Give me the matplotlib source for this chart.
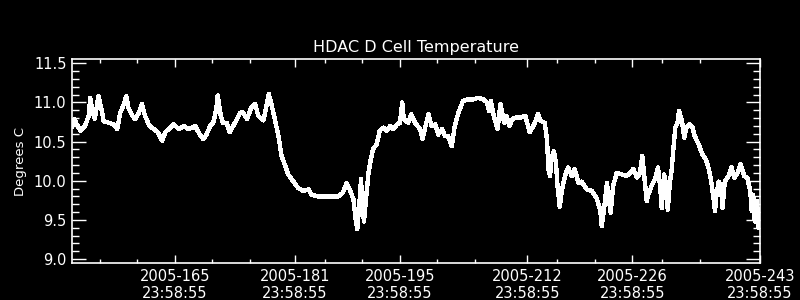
import matplotlib
matplotlib.use("Agg")
import matplotlib.pyplot as plt
from matplotlib.ticker import FixedLocator

# ==========================================================
# data (day of year 2005, degrees C)
# ==========================================================
days = [151.27, 151.6, 151.9, 152.4, 153.0, 153.5, 153.7, 154.0, 154.3, 154.8,
        155.2, 155.5, 156.2, 156.8, 157.3, 157.7, 158.2, 158.5, 158.8, 159.3,
        159.7, 160.2, 160.6, 161.0, 161.6, 162.2, 162.7, 163.3, 163.7, 164.4,
        164.8, 165.5, 166.2, 166.8, 167.3, 167.7, 168.3, 168.8, 169.2, 169.7,
        170.1, 170.5, 170.7, 171.1, 171.4, 171.9, 172.3, 173.0, 173.7, 174.1,
        174.6, 175.2, 175.7, 176.1, 176.8, 177.2, 177.5, 177.9, 178.3, 178.8,
        179.2, 179.7, 180.1, 180.8, 181.4, 182.1, 182.8, 183.2, 184.1, 185.0,
        185.9, 186.8, 187.4, 187.9, 188.3, 188.8, 189.1, 189.3, 189.6, 189.8,
        190.0, 190.2, 190.5, 190.8, 191.1, 191.4, 191.9, 192.3, 192.8, 193.2,
        193.7, 194.1, 194.6, 195.0, 195.3, 195.5, 196.1, 196.5, 197.0, 197.7,
        198.0, 198.3, 198.8, 199.2, 199.7, 200.1, 200.6, 201.0, 201.4, 201.9,
        202.3, 202.8, 203.4, 204.1, 204.8, 205.4, 206.1, 206.6, 206.9, 207.1,
        207.5, 208.0, 208.4, 208.9, 209.2, 209.6, 210.0, 210.6, 211.2, 211.7,
        212.3, 212.9, 213.4, 213.7, 214.3, 214.6, 214.8, 215.0, 215.2, 215.5,
        215.8, 216.0, 216.3, 216.6, 217.0, 217.4, 217.9, 218.3, 218.8, 219.2,
        219.9, 220.6, 221.2, 221.7, 221.9, 222.2, 222.6, 222.8, 223.1, 223.4,
        223.9, 224.6, 225.2, 225.7, 226.1, 226.6, 227.0, 227.3, 227.7, 227.9,
        228.1, 228.6, 229.0, 229.4, 229.7, 229.9, 230.2, 230.5, 230.7, 231.0,
        231.2, 231.4, 231.7, 232.0, 232.2, 232.6, 232.9, 233.2, 233.6, 234.0,
        234.3, 234.8, 235.3, 235.8, 236.2, 236.5, 236.8, 237.0, 237.2, 237.5,
        237.8, 238.0, 238.3, 238.8, 239.2, 239.6, 240.0, 240.4, 240.9, 241.3,
        241.7, 241.9, 242.1, 242.3, 242.6, 242.8, 243.0]
temps = [10.70, 10.79, 10.72, 10.64, 10.70, 10.83, 11.06, 10.89, 10.79, 11.08,
         10.91, 10.76, 10.74, 10.72, 10.66, 10.87, 10.98, 11.08, 10.93, 10.83,
         10.79, 10.87, 10.98, 10.83, 10.70, 10.66, 10.62, 10.51, 10.62, 10.68,
         10.72, 10.66, 10.70, 10.66, 10.68, 10.70, 10.59, 10.53, 10.59, 10.70,
         10.74, 10.91, 11.09, 10.83, 10.74, 10.74, 10.62, 10.74, 10.87, 10.87,
         10.79, 10.94, 10.98, 10.83, 10.77, 10.96, 11.11, 10.96, 10.79, 10.57,
         10.32, 10.19, 10.08, 9.99, 9.91, 9.87, 9.89, 9.82, 9.80, 9.80,
         9.80, 9.80, 9.85, 9.97, 9.89, 9.76, 9.50, 9.38, 9.72, 10.02,
         9.68, 9.48, 9.80, 10.10, 10.27, 10.40, 10.47, 10.64, 10.68, 10.64,
         10.70, 10.66, 10.72, 10.74, 11.00, 10.79, 10.74, 10.85, 10.74, 10.66,
         10.53, 10.66, 10.85, 10.70, 10.72, 10.59, 10.66, 10.57, 10.57, 10.44,
         10.70, 10.87, 11.02, 11.04, 11.04, 11.06, 11.04, 11.00, 10.89, 11.02,
         10.83, 10.66, 10.98, 10.74, 10.83, 10.70, 10.79, 10.81, 10.81, 10.83,
         10.62, 10.72, 10.85, 10.77, 10.74, 10.53, 10.14, 10.06, 10.27, 10.38,
         10.23, 9.93, 9.67, 9.89, 10.06, 10.17, 10.06, 10.15, 9.97, 9.99,
         9.89, 9.87, 9.78, 9.63, 9.42, 9.63, 9.97, 9.80, 9.59, 9.93,
         10.10, 10.08, 10.06, 10.10, 10.15, 10.04, 10.10, 10.32, 9.93, 9.74,
         9.82, 9.95, 10.02, 10.17, 9.91, 9.65, 10.08, 9.95, 9.63, 9.99,
         10.12, 10.34, 10.68, 10.74, 10.89, 10.76, 10.55, 10.68, 10.72, 10.68,
         10.57, 10.47, 10.34, 10.27, 10.14, 9.99, 9.78, 9.61, 9.82, 9.99,
         9.91, 9.65, 9.99, 10.06, 10.17, 10.04, 10.10, 10.21, 10.06, 10.04,
         9.87, 9.61, 9.82, 9.48, 9.74, 9.40, 9.57]

major_days = [165, 181, 195, 212, 226, 243]
minor_days = [155, 160, 170, 175, 185, 190, 200, 205, 216, 221, 230, 235]
tick_labels = [f"2005-{d}\n23:58:55" for d in major_days]
y_ticks = [9.0, 9.5, 10.0, 10.5, 11.0, 11.5]

# ==========================================================
# plot
# ==========================================================
fig = plt.figure(figsize=(8, 3), dpi=100, facecolor="black")
ax = fig.add_axes([0.09, 0.1233, 0.86, 0.68], facecolor="black")

# IDL-style: no antialiasing on the trace
ax.plot(days, temps, color="white", lw=2.4, antialiased=False)

ax.set_xlim(151.27, 243.0)
ax.set_ylim(8.95, 11.555)

ax.xaxis.set_major_locator(FixedLocator(major_days))
ax.xaxis.set_minor_locator(FixedLocator(minor_days))
ax.set_xticklabels(tick_labels)
ax.set_yticks(y_ticks)
ax.set_yticklabels([f"{v:.1f}" for v in y_ticks])
ax.yaxis.set_minor_locator(FixedLocator([v / 10 for v in range(90, 116)]))

ax.tick_params(which="both", direction="in", colors="white", top=True, right=True,
               labelsize=10.5, width=1)
ax.tick_params(axis="x", which="major", length=5.5, pad=4)
ax.tick_params(axis="x", which="minor", length=2.8)
ax.tick_params(axis="y", which="major", length=10, pad=4)
ax.tick_params(axis="y", which="minor", length=5)
for s in ax.spines.values():
    s.set_color("white")
    s.set_linewidth(1.2)

ax.set_title("HDAC D Cell Temperature", color="white", fontsize=11.5, pad=5)
ax.set_ylabel("Degrees C", color="white", fontsize=9.5, labelpad=5)

fig.savefig("out.png", dpi=100, facecolor="black")
